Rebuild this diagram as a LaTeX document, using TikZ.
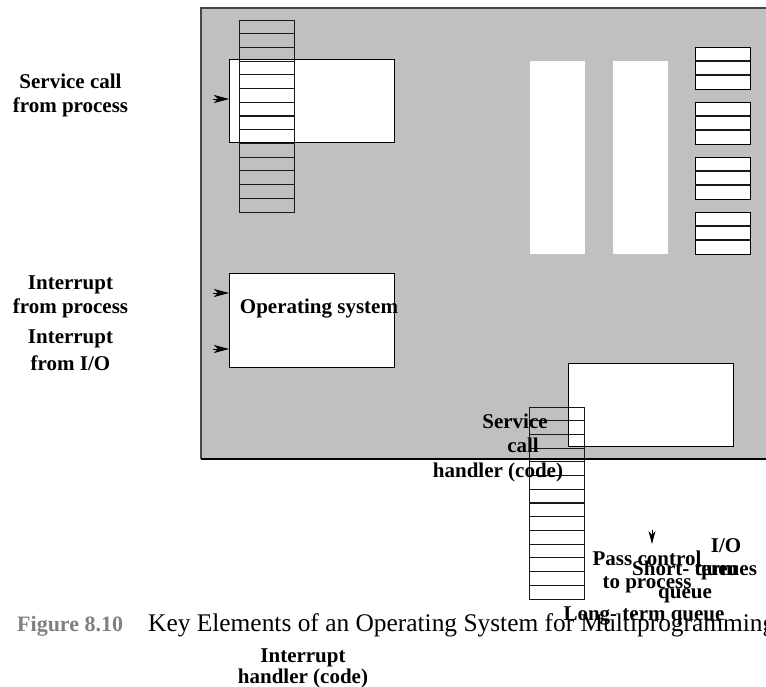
\documentclass[tikz,border=0pt]{standalone}
\usepackage{fontspec}
\setmainfont{Liberation Serif}
\usetikzlibrary{arrows.meta}
\definecolor{bggray}{RGB}{192,192,192}
\definecolor{capgray}{RGB}{128,128,128}
\definecolor{edgegray}{RGB}{70,70,70}
\begin{document}
\begin{tikzpicture}[x=1pt,y=-1pt,
  lbl/.style={font=\fontsize{21}{24}\selectfont\bfseries, inner sep=0pt, anchor=base},
  capt/.style={font=\fontsize{25.4}{28}\selectfont, inner sep=0pt, anchor=base west},
  box/.style={draw=black, fill=white, line width=1.1pt, inner sep=0pt, anchor=north west},
  blank/.style={fill=white, draw=none, inner sep=0pt, anchor=north west, minimum width=55pt, minimum height=193pt},
  stackbox/.style={draw=black!90, line width=1.2pt, inner sep=0pt, anchor=north west, minimum width=55pt, minimum height=192pt},
  cellline/.style={draw=black!90, line width=1.2pt},
  arr/.style={-{Stealth[length=15pt,width=8pt,inset=4pt]}, line width=0.8pt}]
\clip (0,0) rectangle (766,687);
\fill[white] (0,0) rectangle (766,687);
% background panel
\fill[bggray] (201,8) rectangle (790,459);
\draw[line width=1.4pt, edgegray] (790,8) -- (201,8) -- (201,459);
\draw[line width=1.1pt, black] (201,459) -- (790,459);
% white boxes
\node[box, minimum width=165pt, minimum height=83pt] (scbox) at (229,59) {};
\node[box, minimum width=165pt, minimum height=94pt] (osbox) at (229,273) {};
\node[box, minimum width=165pt, minimum height=83pt] (iobox) at (568,363) {};
\node[blank] (colA) at (530,61) {};
\node[blank] (colB) at (613,61) {};
% small queues
\foreach \n/\y in {q1/47,q2/102,q3/157,q4/212}{
  \node[box, line width=1.3pt, minimum width=55pt, minimum height=42pt] (\n) at (695,\y) {};
  \draw[cellline] (695,\y+14) -- ++(55,0);
  \draw[cellline] (695,\y+28) -- ++(55,0);
}
% stacks
\node[stackbox] (stackA) at (239,20) {};
\foreach \i in {1,...,13} \draw[cellline] (239,20+\i*13.714) -- ++(55,0);
\node[stackbox] (stackB) at (529,407) {};
\foreach \i in {1,...,13} \draw[cellline] (529,407+\i*13.714) -- ++(55,0);
% arrows
\coordinate (a1) at (213,99);
\draw[arr] (a1) -- (a1 -| scbox.west);
\coordinate (a2) at (213,293);
\draw[arr] (a2) -- (a2 -| osbox.west);
\coordinate (a3) at (213,349);
\draw[arr] (a3) -- (a3 -| osbox.west);
\coordinate (d1) at (652,530);
\coordinate (d2) at (652,544);
\draw[-{Stealth[length=13pt,width=7pt,inset=4pt]}, line width=0.8pt] (d1) -- (d2);
% labels
\node[lbl] (sc1) at (70.5,89) {Service call};
\node[lbl] (sc2) at (70.5,113) {from process};
\node[lbl] (ip1) at (70.5,290) {Interrupt};
\node[lbl] (ip2) at (70.5,313) {from process};
\node[lbl] (io1) at (70.5,343) {Interrupt};
\node[lbl] (io2) at (70.5,370) {from I/O};
\node[lbl] (os) at (319,313) {Operating system};
\node[lbl] (sh1) at (515,428) {Service};
\node[lbl] (sh2) at (523,452) {call};
\node[lbl] (sh3) at (498,477) {handler (code)};
\node[lbl] (pc1) at (647,565) {Pass control};
\node[lbl] (pc2) at (647,588) {to process};
\node[lbl] (iq1) at (726,552) {I/O};
\node[lbl] (iq2) at (726,575) {queues};
\node[lbl] (st1) at (685,575) {Short- term};
\node[lbl] (st2) at (685,598) {queue};
\node[lbl] (lt) at (644,620) {Long- term queue};
\node[capt, text=capgray, font=\fontsize{22}{26}\selectfont\bfseries] (fig) at (17,631) {Figure 8.10};
\node[capt] (cap) at (148,631) {Key Elements of an Operating System for Multiprogramming};
\node[lbl] (ih1) at (303,662) {Interrupt};
\node[lbl] (ih2) at (303,683) {handler (code)};
\end{tikzpicture}
\end{document}
